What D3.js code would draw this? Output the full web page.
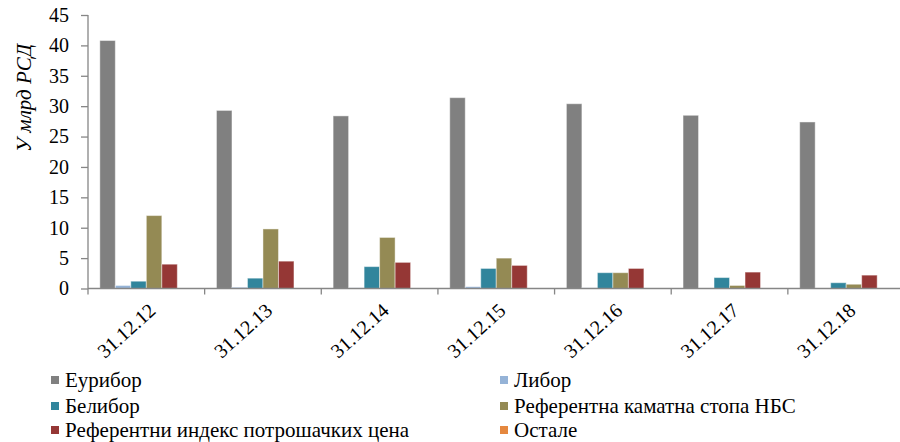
<!DOCTYPE html>
<html><head><meta charset="utf-8">
<script src="https://cdn.jsdelivr.net/npm/d3@7"></script>
</head><body style="margin:0">
<script>
const categories = ["31.12.12","31.12.13","31.12.14","31.12.15","31.12.16","31.12.17","31.12.18"];
const seriesNames = ["Еурибор","Либор","Белибор","Референтна каматна стопа НБС","Референтни индекс потрошачких цена","Остале"];
const euribor = [40.8, 29.3, 28.4, 31.4, 30.4, 28.5, 27.4];
const libor   = [0.5, 0.2, 0.1, 0.3, 0.1, 0.05, 0.05];
const belibor = [1.2, 1.7, 3.6, 3.3, 2.6, 1.8, 0.95];
const refNBS  = [12.0, 9.8, 8.4, 5.0, 2.6, 0.5, 0.7];
const cpi     = [4.0, 4.5, 4.3, 3.8, 3.3, 2.7, 2.2];
const other   = [0, 0, 0, 0, 0, 0, 0];
const yTicks = [0,5,10,15,20,25,30,35,40,45];
const colors = ["#808080","#95B3D7","#31859C","#948A54","#953735","#E5883F"];
const values = [euribor, libor, belibor, refNBS, cpi, other];

const W = 900, H = 442;
const FONT = '"Times New Roman"';
const svg = d3.select("body").append("svg").attr("width", W).attr("height", H).style("display", "block");

const x0 = d3.scaleBand().domain(categories).range([88, 904.5]).paddingInner(0).paddingOuter(0);
const x1 = d3.scaleBand().domain(d3.range(6)).range([0, x0.bandwidth()]).paddingOuter(0.763).paddingInner(0);
const y = d3.scaleLinear().domain([0, 45]).range([288.5, 15]);

categories.forEach((c, i) => {
  const g = svg.append("g").attr("transform", `translate(${x0(c)},0)`);
  values.forEach((arr, s) => {
    const v = arr[i];
    if (v <= 0) return;
    g.append("rect")
      .attr("x", x1(s)).attr("y", y(v))
      .attr("width", x1.bandwidth()).attr("height", y(0) - y(v))
      .attr("fill", colors[s])
      .attr("stroke", "rgba(255,255,255,0.45)").attr("stroke-width", 1);
  });
});

const yAxis = svg.append("g").attr("transform", "translate(88,0)")
  .call(d3.axisLeft(y).tickValues(yTicks).tickSize(7).tickPadding(0));
yAxis.selectAll("line").attr("stroke", "#868686").attr("stroke-width", 1.3);
yAxis.select(".domain").attr("stroke", "#868686").attr("stroke-width", 1.3).attr("d", "M0,15V288.5");
yAxis.selectAll(".tick text").remove();
yTicks.forEach(t => {
  svg.append("text").attr("x", 69).attr("y", y(t)).attr("dy", "0.34em")
    .attr("text-anchor", "end")
    .style("font-family", FONT).style("font-size", "20px").attr("fill", "#000")
    .text(t);
});

const xAxisG = svg.append("g").attr("transform", "translate(0,288.5)");
xAxisG.append("line").attr("x1", 88).attr("x2", 904.5).attr("stroke", "#868686").attr("stroke-width", 1.3);
const boundaries = categories.map(c => x0(c)).concat([x0(categories[categories.length-1]) + x0.bandwidth()]);
xAxisG.selectAll("line.tk").data(boundaries).join("line").attr("class","tk")
  .attr("x1", d => d).attr("x2", d => d).attr("y1", 0).attr("y2", 6).attr("stroke", "#868686").attr("stroke-width", 1.3);
categories.forEach(c => {
  svg.append("text")
    .attr("transform", `translate(${x0(c) + x0.bandwidth()/2 + 6},${307}) rotate(-42)`)
    .attr("text-anchor", "end").attr("dy", "0.35em")
    .style("font-family", FONT).style("font-size", "20px").attr("fill", "#000")
    .text(c);
});

svg.append("text")
  .attr("transform", "translate(31,98) rotate(-90)")
  .attr("text-anchor", "middle")
  .style("font-family", FONT).style("font-style", "italic").style("font-size", "21px")
  .text("У млрд РСД");

const legendPos = [[51,380],[500,380],[51,406],[500,406],[51,430],[500,430]];
seriesNames.forEach((n, i) => {
  const [lx, ly] = legendPos[i];
  svg.append("rect").attr("x", lx).attr("y", ly - 4).attr("width", 8).attr("height", 8).attr("fill", colors[i]);
  svg.append("text").attr("x", lx + 14).attr("y", ly).attr("dy", "0.34em")
    .style("font-family", FONT).style("font-size", "21px").attr("fill", "#000")
    .text(n);
});
</script>
</body></html>
